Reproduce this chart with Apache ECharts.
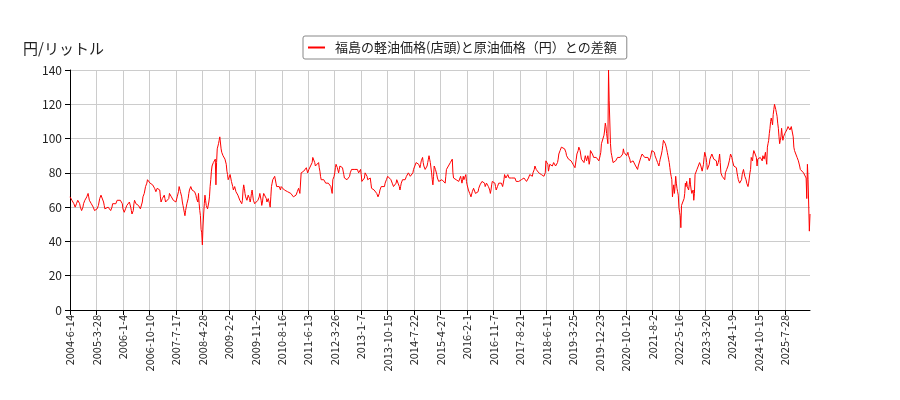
<!DOCTYPE html>
<html>
<head>
<meta charset="utf-8">
<script src="https://cdn.jsdelivr.net/npm/echarts@6/dist/echarts.min.js"></script>
<style>
html, body { margin: 0; padding: 0; background: #fff; }
#chart { width: 900px; height: 400px; }
</style>
</head>
<body>
<div id="chart"></div>
<script>
// 週ごとの差額（円/リットル）: 2004-06-14 から
const diff2004to2011 = [
    66,66,65,64,64,63,62,61, 60,61,62,63,64,64,63,62, 60,59,58,59,60,62,63,64, 64,65,66,67,68,66,64,64, 63,62,62,61,60,59,58,58,57,
    58,59,60,61,63,65,66,67, 68,68,66,63,61,59,58,59, 60,60,60,59,59,59,58,58, 60,62,63,62,61,61,62,63, 64,64,64,65,65,64,63,63,62,
    59,58,57,58,59,60,61,62, 62,62,63,62,60,58,56,55, 58,62,64,63,62,62,61,61, 61,60,60,59,59,60,63,66, 67,68,70,72,73,74,76,76,75,
    75,74,74,73,73,73,72,72, 71,70,69,70,71,71,72,72, 70,66,63,64,65,65,66,67, 65,63,62,62,63,63,65,68, 67,67,66,66,65,64,64,63,63,
    63,64,66,67,69,72,71,69, 68,66,63,61,59,57,55,58, 60,62,63,65,68,70,71,72, 72,70,71,71,70,69,70,67, 65,66,63,68,62,58,55,47,45,
    38,49,56,62,67,64,61,60, 59,60,63,66,72,76,81,84, 85,86,85,86,88,73,86,94, 95,97,99,101,102,94,92,91, 90,90,89,88,87,85,81,79,76,
    76,77,79,77,75,74,72,70, 71,72,71,69,68,68,67,67, 66,64,63,63,62,64,70,73, 71,68,66,65,64,65,67,66, 65,63,65,68,70,67,64,63,62
];
const diff2011to2017 = [
    62,62,63,63,64,65,66,68, 67,64,61,63,66,68,69,69, 67,65,63,64,65,64,62,60, 66,72,74,76,77,77,78,77, 74,72,72,73,73,72,71,70,72,
    73,72,71,71,70,70,70,69, 69,69,68,68,69,69,68,68, 67,67,66,66,67,67,67,68, 69,70,71,70,68,68,80,79, 80,80,81,82,82,81,83,82,80,
    81,82,81,82,83,83,86,89, 88,88,86,84,83,83,84,84, 86,83,81,78,76,76,75,75, 76,76,75,74,74,73,73,74, 75,74,73,72,71,68,76,77,78,
    80,83,85,84,83,82,80,82, 84,84,84,84,83,82,79,77, 77,76,76,76,75,75,76,78, 80,81,82,83,82,82,82,82, 82,83,83,82,81,80,80,81,82,
    79,75,75,74,75,77,80,80, 79,78,76,75,75,76,77,74, 71,70,71,71,70,70,70,69, 68,67,66,65,68,70,71,72, 72,72,71,71,72,74,75,76,77,
    78,79,78,77,77,76,75,74, 73,72,72,73,73,74,76,75, 74,73,72,70,72,74,75,76, 77,76,76,76,77,78,79,79, 80,79,79,78,78,78,78,80,82,
    83,84,85,86,86,85,86,85, 84,83,85,87,88,89,86,84, 83,82,82,83,84,86,88,90, 88,86,85,80,76,73,78,84, 83,82,81,79,77,76,75,75,76
];
const diff2017to2022 = [
    75,75,76,75,76,75,75,74, 78,82,83,83,84,84,85,86, 86,87,88,80,77,77,78,77, 76,77,76,76,75,75,76,78, 76,74,76,78,76,75,77,79,75,
    73,72,70,69,68,67,66,67, 69,70,71,71,70,68,68,67, 67,69,71,72,73,74,74,75, 75,76,76,74,72,73,74,74, 73,72,71,70,68,70,73,75,76,
    76,75,74,72,70,71,72,73, 74,74,74,74,74,73,72,73, 76,79,78,77,77,78,79,78, 77,77,77,77,77,76,76,77, 77,77,76,75,75,76,76,75,74,
    74,75,76,77,76,76,77,77, 76,76,75,75,76,77,78,79, 79,78,78,78,80,80,82,84, 83,82,81,81,81,80,81,81, 80,79,79,78,78,78,79,80,87,
    87,86,85,81,83,85,86,86, 85,84,84,86,87,86,84,84, 85,86,88,91,92,93,94,95, 96,96,95,95,94,93,92,90, 89,89,88,87,87,88,87,87,86,
    85,84,84,83,84,88,91,92, 93,95,96,93,92,88,87,88, 87,86,88,90,89,87,88,90, 88,85,87,93,92,92,91,90, 89,90,90,90,89,89,88,88,87,
    88,90,92,97,97,97,96,102, 105,109,107,103,100,97,140,122, 121,97,92,90,88,86,85,86, 86,87,88,88,89,88,88,88, 89,90,89,90,91,94,92,91,91
];
const diff2021to2026 = [
    91,90,91,92,90,89,88,86, 87,86,86,87,87,86,86,84, 84,83,82,84,85,84,83,89, 90,91,91,90,90,89,89,88, 89,89,89,88,87,87,89,91,93,
    92,93,94,92,90,89,88,87, 86,85,84,86,88,89,91,93, 96,99,100,98,97,96,94,92, 90,88,86,83,80,78,76,66, 70,73,68,72,78,74,71,69,67,
    60,57,55,48,61,62,63,64, 65,68,74,72,75,72,72,70, 73,77,73,70,68,69,70,64, 68,79,79,80,82,83,84,85, 86,86,84,83,81,82,85,89,92,
    93,89,86,82,81,81,85,88, 87,89,91,91,90,88,87,88, 88,87,84,85,86,88,91,86, 80,79,78,78,78,77,76,80, 81,82,82,84,85,87,89,91,90,
    89,87,86,84,83,83,84,83, 80,78,76,75,74,74,75,76, 79,80,82,81,78,77,76,74, 73,72,74,77,80,82,89,88, 87,91,93,92,91,90,89,84,88,
    89,89,88,89,90,89,87,90, 89,88,87,92,88,85,95,97, 99,103,106,110,112,110,108,114, 117,120,121,117,115,113,109,106, 101,97,99,101,106,102,99,101,102,
    103,104,104,105,106,107,106,106, 105,106,107,108,106,101,95,93, 92,91,90,89,88,87,86,84, 82,82,82,81,81,80,79,80, 81,77,65,85,76,75,46,56
];

// 軸に表示される日付（41週ごと）
const tickLabels = [
    '2004-6-14', '2005-3-28', '2006-1-4', '2006-10-10', '2007-7-17', '2008-4-28', '2009-2-2',
    '2009-11-2', '2010-8-16', '2011-6-13', '2012-3-26', '2013-1-7', '2013-10-15', '2014-7-22',
    '2015-4-27', '2016-2-1', '2016-11-7', '2017-8-21', '2018-6-11', '2019-3-25', '2019-12-23',
    '2020-10-12', '2021-8-2', '2022-5-16', '2023-3-20', '2024-1-9', '2024-10-15', '2025-7-28'
];
const labelStep = 41;

const seriesName = '福島の軽油価格(店頭)と原油価格（円）との差額';
const fontFamily = '"Noto Sans CJK JP", "Noto Sans", sans-serif';

const diffValues = diff2004to2011.concat(diff2011to2017, diff2017to2022, diff2021to2026);

// カテゴリ（週次の日付）を作成
const categories = [];
const startTime = Date.UTC(2004, 5, 14);
for (let i = 0; i < diffValues.length; i++) {
    const d = new Date(startTime + i * 7 * 86400000);
    categories.push(d.getUTCFullYear() + '-' + (d.getUTCMonth() + 1) + '-' + d.getUTCDate());
}
tickLabels.forEach((label, k) => {
    if (k * labelStep < categories.length) {
        categories[k * labelStep] = label;
    }
});

const chart = echarts.init(document.getElementById('chart'));

const option = {
    animation: false,
    textStyle: { fontFamily: fontFamily },
    title: {
        text: '円/リットル',
        left: 18,
        top: 36,
        textStyle: { fontSize: 15, fontWeight: 'normal', color: '#222', fontFamily: fontFamily }
    },
    legend: {
        data: [{ name: seriesName, icon: 'rect' }],
        left: 303,
        top: 36,
        padding: [5, 10, 5, 5],
        itemWidth: 17,
        itemHeight: 2,
        itemGap: 8,
        borderColor: '#888',
        borderWidth: 1,
        borderRadius: 2,
        backgroundColor: '#fff',
        textStyle: { fontSize: 13, color: '#222', padding: [0, 0, 0, 5], fontFamily: fontFamily }
    },
    grid: {
        left: 70,
        right: 90,
        top: 70,
        bottom: 90
    },
    xAxis: {
        type: 'category',
        data: categories,
        boundaryGap: false,
        axisLine: { lineStyle: { color: '#000', width: 1 } },
        axisTick: { interval: labelStep - 1, length: 5, lineStyle: { color: '#000' } },
        axisLabel: {
            interval: labelStep - 1,
            rotate: 90,
            fontSize: 11,
            color: '#222',
            margin: 5,
            fontFamily: fontFamily
        },
        splitLine: { show: true, interval: labelStep - 1, lineStyle: { color: '#ccc', width: 1 } }
    },
    yAxis: {
        type: 'value',
        min: 0,
        max: 140,
        interval: 20,
        axisLine: { show: true, lineStyle: { color: '#000', width: 1 } },
        axisTick: { show: true, length: 5, lineStyle: { color: '#000' } },
        axisLabel: { fontSize: 12, color: '#222', margin: 8, fontFamily: fontFamily },
        splitLine: { show: true, lineStyle: { color: '#ccc', width: 1 } }
    },
    series: [{
        name: seriesName,
        type: 'line',
        data: diffValues,
        showSymbol: false,
        symbol: 'none',
        lineStyle: { color: '#ff0000', width: 1 },
        itemStyle: { color: '#ff0000' }
    }]
};

chart.setOption(option);

window.addEventListener('resize', function() {
    chart.resize();
});
</script>
</body>
</html>
